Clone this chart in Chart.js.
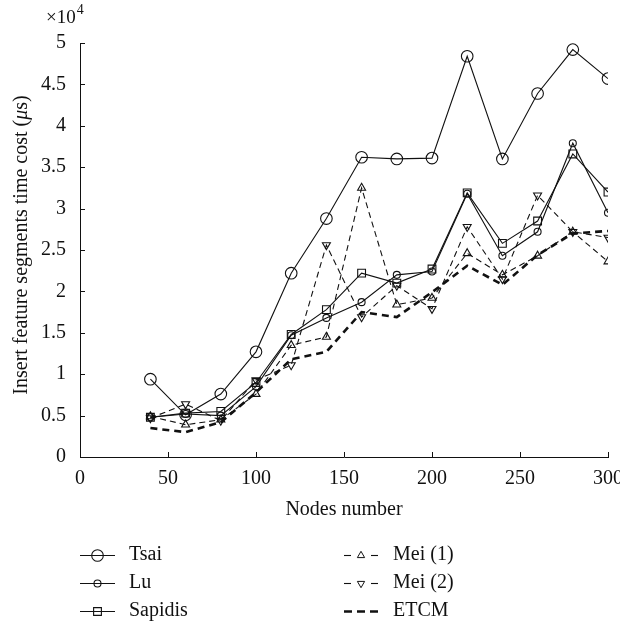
<!DOCTYPE html>
<html>
<head>
<meta charset="utf-8">
<script src="https://cdn.jsdelivr.net/npm/chart.js@4/dist/chart.umd.min.js"></script>
<style>
  html, body { margin: 0; padding: 0; background: #fff; }
  canvas { display: block; }
</style>
</head>
<body>
<canvas id="chart" width="620" height="622"></canvas>
<script>
// Datos (eje x: numero de nodos)
const nodes   = [40, 60, 80, 100, 120, 140, 160, 180, 200, 220, 240, 260, 280, 300];
const tsai    = [9400, 5100, 7600, 12700, 22200, 28800, 36200, 36000, 36100, 48400, 36000, 43900, 49200, 45700];
const lu      = [4800, 5200, 5000, 8500, 14700, 16800, 18700, 22000, 22400, 31800, 24300, 27200, 37900, 29500];
const sapidis = [4800, 5300, 5500, 9000, 14800, 17800, 22200, 21000, 22700, 31900, 25800, 28500, 36600, 32000];
const mei1    = [4900, 3900, 4500, 7600, 13500, 14500, 32500, 18400, 19200, 24600, 22000, 24300, 27200, 23600];
const mei2    = [4700, 6400, 4400, 9300, 11100, 25600, 16900, 20700, 17900, 27800, 21500, 31600, 27200, 26500];
const etcm    = [3500, 3000, 4200, 7800, 11800, 12700, 17500, 16900, 19900, 23100, 20800, 24400, 27000, 27300];

const xTicks = [0, 50, 100, 150, 200, 250, 300];
const yTicks = [0, 0.5, 1, 1.5, 2, 2.5, 3, 3.5, 4, 4.5, 5];
const yScaleFactor = 10000;

const FONT = "'Liberation Serif', 'Times New Roman', serif";
const INK = "#111";

function pares(vals) {
  return nodes.map((n, i) => ({ x: n, y: vals[i] }));
}

function serie(label, vals, cfg) {
  return Object.assign({
    label: label,
    data: pares(vals),
    borderColor: INK,
    backgroundColor: "transparent",
    pointBackgroundColor: "transparent",
    pointBorderColor: INK,
    pointBorderWidth: 1.1,
    borderWidth: 1.1,
    tension: 0,
    fill: false
  }, cfg);
}

const datasets = [
  serie("Tsai", tsai, { pointStyle: "circle", pointRadius: 5.8 }),
  serie("Lu", lu, { pointStyle: "circle", pointRadius: 3.5 }),
  serie("Sapidis", sapidis, { pointStyle: "rect", pointRadius: 5.5 }),
  serie("Mei (1)", mei1, { pointStyle: "triangle", pointRadius: 4.6, borderDash: [6, 4] }),
  serie("Mei (2)", mei2, { pointStyle: "triangle", pointRotation: 180, pointRadius: 4.6, borderDash: [6, 4] }),
  serie("ETCM", etcm, { pointRadius: 0, borderWidth: 2.6, borderDash: [7, 5] })
];

// Dibuja un marcador simple (para la leyenda)
function marcador(ctx, estilo, x, y, r, rot) {
  ctx.beginPath();
  if (estilo === "circle") {
    ctx.arc(x, y, r, 0, Math.PI * 2);
  } else if (estilo === "rect") {
    const s = r * Math.SQRT1_2;
    ctx.rect(x - s, y - s, 2 * s, 2 * s);
  } else if (estilo === "triangle") {
    let a = (rot || 0) * Math.PI / 180;
    for (let k = 0; k < 3; k++) {
      const px = x + Math.sin(a) * r, py = y - Math.cos(a) * r;
      if (k === 0) ctx.moveTo(px, py); else ctx.lineTo(px, py);
      a += 2 * Math.PI / 3;
    }
    ctx.closePath();
  }
  ctx.stroke();
}

const extras = {
  id: "extras",
  afterDraw(chart) {
    const ctx = chart.ctx;
    const xs = chart.scales.x, ys = chart.scales.y;
    const area = chart.chartArea;
    ctx.save();
    ctx.strokeStyle = INK;
    ctx.fillStyle = INK;
    ctx.lineWidth = 1;

    // marcas hacia adentro
    xs.ticks.forEach(t => {
      const px = Math.round(xs.getPixelForValue(t.value)) + 0.5;
      ctx.beginPath(); ctx.moveTo(px, area.bottom); ctx.lineTo(px, area.bottom - 5); ctx.stroke();
    });
    ys.ticks.forEach(t => {
      const py = Math.round(ys.getPixelForValue(t.value)) + 0.5;
      ctx.beginPath(); ctx.moveTo(area.left, py); ctx.lineTo(area.left + 5, py); ctx.stroke();
    });

    // x10^4
    ctx.textBaseline = "middle";
    ctx.textAlign = "left";
    ctx.font = "19px " + FONT;
    ctx.fillText("\u00d710", 46, 18);
    const w10 = ctx.measureText("\u00d710").width;
    ctx.font = "14px " + FONT;
    ctx.fillText("4", 46 + w10 + 1, 10);

    // titulo eje y con mu en cursiva
    const partes = [
      { t: "Insert feature segments time cost (", f: "20px " + FONT },
      { t: "\u03bc", f: "italic 20px " + FONT },
      { t: "s)", f: "20px " + FONT }
    ];
    let total = 0;
    partes.forEach(p => { ctx.font = p.f; p.w = ctx.measureText(p.t).width; total += p.w; });
    ctx.translate(22, 245);
    ctx.rotate(-Math.PI / 2);
    let cx = -total / 2;
    partes.forEach(p => { ctx.font = p.f; ctx.fillText(p.t, cx, 0); cx += p.w; });
    ctx.setTransform(1, 0, 0, 1, 0, 0);

    // leyenda en dos columnas
    const filas = [555, 583, 611];
    const cols = [{ x0: 80, x1: 115, tx: 129 }, { x0: 344, x1: 378, tx: 393 }];
    chart.data.datasets.forEach((ds, i) => {
      const col = cols[Math.floor(i / 3)];
      const y = filas[i % 3] + 0.5;
      const cxm = (col.x0 + col.x1) / 2;
      ctx.lineWidth = ds.borderWidth;
      ctx.setLineDash([]);
      if (ds.pointRadius === 0) {
        ctx.setLineDash([8, 5]);
        ctx.beginPath(); ctx.moveTo(col.x0, y); ctx.lineTo(col.x1 + 2, y); ctx.stroke();
        ctx.setLineDash([]);
      } else if (ds.borderDash) {
        ctx.beginPath(); ctx.moveTo(col.x0, y); ctx.lineTo(col.x0 + 7, y); ctx.stroke();
        ctx.beginPath(); ctx.moveTo(col.x1 - 7, y); ctx.lineTo(col.x1, y); ctx.stroke();
        ctx.lineWidth = 1;
        marcador(ctx, ds.pointStyle, cxm, y, 4.2, ds.pointRotation);
      } else {
        const r = ds.label === "Tsai" ? 5.8 : (ds.label === "Lu" ? 3.5 : 5.5);
        ctx.beginPath(); ctx.moveTo(col.x0, y); ctx.lineTo(col.x1, y); ctx.stroke();
        ctx.fillStyle = "#fff";
        marcador(ctx, ds.pointStyle, cxm, y, r, 0);
        ctx.fillStyle = INK;
      }
      ctx.font = "20px " + FONT;
      ctx.textBaseline = "middle";
      ctx.fillText(ds.label, col.tx, filas[i % 3]);
    });
    ctx.restore();
  }
};

new Chart(document.getElementById("chart"), {
  type: "line",
  data: { datasets: datasets },
  options: {
    responsive: false,
    animation: false,
    devicePixelRatio: 1,
    layout: { padding: { left: 0, top: 43, right: 12, bottom: 97 } },
    plugins: {
      legend: { display: false },
      tooltip: { enabled: false }
    },
    scales: {
      x: {
        type: "linear",
        min: 0, max: 300,
        afterBuildTicks: s => { s.ticks = xTicks.map(v => ({ value: v })); },
        afterFit: s => { s.height = 68; s.paddingLeft = 0; s.paddingRight = 0; },
        grid: { display: false },
        border: { display: true, color: INK, width: 1 },
        ticks: { color: INK, padding: 2, maxRotation: 0, font: { family: FONT, size: 20 } },
        title: { display: true, text: "Nodes number", color: INK, padding: { top: 0, bottom: 3 }, font: { family: FONT, size: 20 } }
      },
      y: {
        type: "linear",
        min: 0, max: 50000,
        afterBuildTicks: s => { s.ticks = yTicks.map(v => ({ value: v * yScaleFactor })); },
        afterFit: s => { s.width = 80; s.paddingTop = 0; s.paddingBottom = 0; },
        grid: { display: false },
        border: { display: true, color: INK, width: 1 },
        ticks: {
          color: INK, padding: 6,
          font: { family: FONT, size: 20 },
          callback: v => String(v / yScaleFactor)
        }
      }
    }
  },
  plugins: [extras]
});
</script>
</body>
</html>
